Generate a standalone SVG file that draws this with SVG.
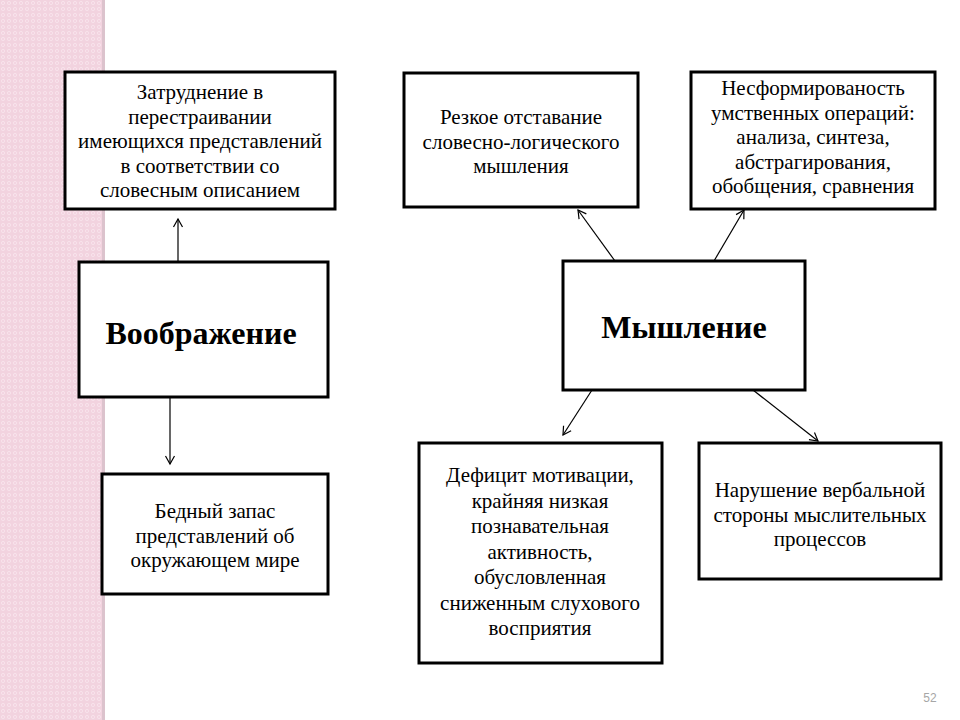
<svg xmlns="http://www.w3.org/2000/svg" width="960" height="720" viewBox="0 0 960 720">
<style>
.box{fill:#fff;stroke:#000;stroke-width:3}
.t{font-family:"Liberation Serif","Times New Roman",serif;font-size:21px;fill:#000;text-anchor:middle}
.b{font-family:"Liberation Serif","Times New Roman",serif;font-size:32px;font-weight:bold;fill:#000;text-anchor:middle}
.c{stroke:#000;stroke-width:1.2;fill:none}
</style>
<defs>
<pattern id="dots" width="6" height="6" patternUnits="userSpaceOnUse">
<rect width="6" height="6" fill="#f2d3df"/>
<circle cx="3" cy="3" r="1.6" fill="none" stroke="#f9e6ed" stroke-width="0.8"/>
</pattern>
<marker id="ah" markerWidth="12" markerHeight="12" refX="10" refY="6" orient="auto" markerUnits="userSpaceOnUse">
<path d="M2,1.5 L10,6 L2,10.5" fill="none" stroke="#000" stroke-width="1.2"/>
</marker>
</defs>
<rect width="960" height="720" fill="#fff"/>
<rect x="0" y="0" width="104" height="720" fill="url(#dots)"/>
<rect x="102" y="0" width="3" height="720" fill="#dcc3cd"/>

<g id="connectors">
<line class="c" x1="178" y1="261" x2="178" y2="219" marker-end="url(#ah)"/>
<line class="c" x1="170" y1="397" x2="170" y2="464" marker-end="url(#ah)"/>
<line class="c" x1="615" y1="261" x2="578" y2="210" marker-end="url(#ah)"/>
<line class="c" x1="714" y1="261" x2="744" y2="210" marker-end="url(#ah)"/>
<line class="c" x1="592" y1="390" x2="563" y2="435" marker-end="url(#ah)"/>
<line class="c" x1="753" y1="390" x2="818" y2="441" marker-end="url(#ah)"/>
</g>

<g id="n1">
<rect class="box" x="65" y="72" width="270" height="137"/>
<text class="t" x="200" y="99">Затруднение в</text>
<text class="t" x="200" y="123.5">перестраивании</text>
<text class="t" x="200" y="148">имеющихся представлений</text>
<text class="t" x="200" y="172.5">в соответствии со</text>
<text class="t" x="200" y="197">словесным описанием</text>
</g>

<g id="n2">
<rect class="box" x="79" y="262" width="249" height="135"/>
<text class="b" x="201" y="344">Воображение</text>
</g>

<g id="n3">
<rect class="box" x="102" y="474" width="226" height="120"/>
<text class="t" x="215" y="518">Бедный запас</text>
<text class="t" x="215" y="542.5">представлений об</text>
<text class="t" x="215" y="567">окружающем мире</text>
</g>

<g id="n4">
<rect class="box" x="404" y="73" width="234" height="134"/>
<text class="t" x="521" y="124">Резкое отставание</text>
<text class="t" x="521" y="148.5">словесно-логического</text>
<text class="t" x="521" y="173">мышления</text>
</g>

<g id="n5">
<rect class="box" x="691" y="72" width="244" height="137"/>
<text class="t" x="813" y="95">Несформированость</text>
<text class="t" x="813" y="119.5">умственных операций:</text>
<text class="t" x="813" y="144">анализа, синтеза,</text>
<text class="t" x="813" y="168.5">абстрагирования,</text>
<text class="t" x="813" y="193">обобщения, сравнения</text>
</g>

<g id="n6">
<rect class="box" x="563" y="261" width="242" height="129"/>
<text class="b" x="684" y="338">Мышление</text>
</g>

<g id="n7">
<rect class="box" x="419" y="443" width="243" height="220"/>
<text class="t" x="540" y="482">Дефицит мотивации,</text>
<text class="t" x="540" y="507.5">крайняя низкая</text>
<text class="t" x="540" y="533">познавательная</text>
<text class="t" x="540" y="558.5">активность,</text>
<text class="t" x="540" y="584">обусловленная</text>
<text class="t" x="540" y="609.5">сниженным слухового</text>
<text class="t" x="540" y="635">восприятия</text>
</g>

<g id="n8">
<rect class="box" x="699" y="443" width="242" height="136"/>
<text class="t" x="820" y="497">Нарушение вербальной</text>
<text class="t" x="820" y="521.5">стороны мыслительных</text>
<text class="t" x="820" y="546">процессов</text>
</g>

<text x="930" y="702" font-family="Liberation Sans, Arial, sans-serif" font-size="12" fill="#a6a6a6" text-anchor="middle">52</text>
</svg>
